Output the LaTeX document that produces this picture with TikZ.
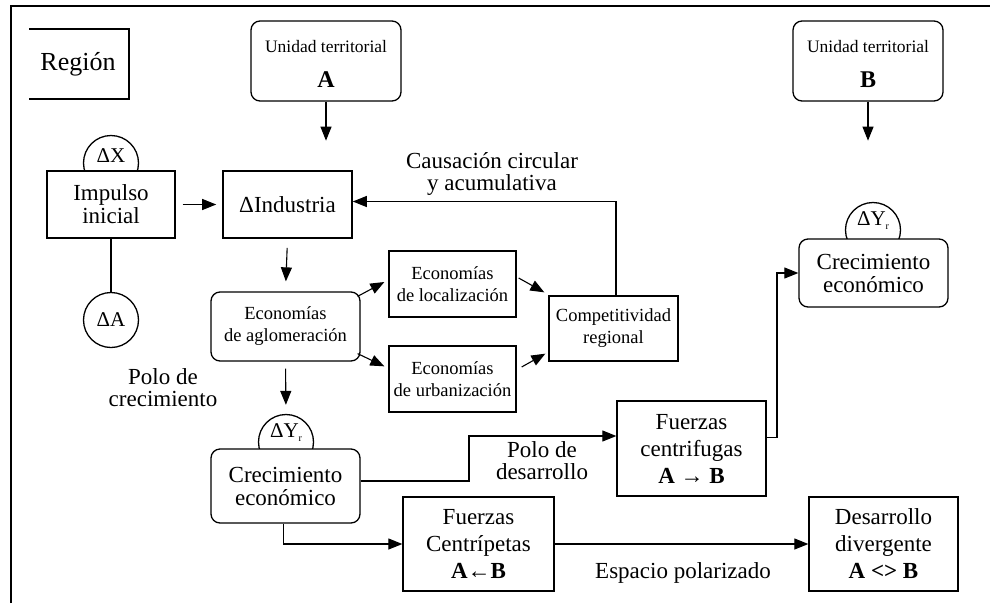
\documentclass[tikz,border=0pt]{standalone}
\usepackage{fontspec}
\setmainfont{Liberation Serif}
\usetikzlibrary{arrows.meta,calc}
\begin{document}
\begin{tikzpicture}[x=1pt,y=-1pt,
  box/.style={draw, line width=1.3pt, fill=white, align=center, inner sep=0pt},
  rbox/.style={box, rounded corners=9pt},
  circ/.style={draw, circle, line width=1.3pt, fill=white, minimum size=55pt, inner sep=0pt},
  arr/.style={line width=1.1pt, -{Triangle[length=14pt,width=11pt]}},
  ln/.style={line width=1.1pt},
  big/.style={font=\fontsize{23}{23}\selectfont},
  bigs/.style={font=\fontsize{23}{27}\selectfont},
  small/.style={font=\fontsize{18.5}{22}\selectfont},
  txt/.style={align=center, inner sep=0pt},
]
\useasboundingbox (0,0) rectangle (990,603);
% frame
\draw[line width=2pt] (11,603) -- (11,6) -- (990,6);
% Region
\draw[line width=2.4pt] (29,29) -- (129,29) -- (129,99) -- (29,99);
\node[txt, font=\fontsize{26}{26}\selectfont] (reg) at (78,64) {Región};

% unidades territoriales
\node[rbox, minimum width=150pt, minimum height=80pt] (uA) at (326,61) {};
\node[txt, font=\fontsize{17.5}{20}\selectfont] (uAt) at (326,47) {Unidad territorial};
\node[txt, font=\fontsize{24}{24}\selectfont\bfseries] (uAl) at (326,80) {A};
\node[rbox, minimum width=150pt, minimum height=80pt] (uB) at (868,61) {};
\node[txt, font=\fontsize{17.5}{20}\selectfont] (uBt) at (868,47) {Unidad territorial};
\node[txt, font=\fontsize{24}{24}\selectfont\bfseries] (uBl) at (868,80) {B};
\coordinate (aA) at ($(uA.south)+(0,39)$);
\coordinate (aB) at ($(uB.south)+(0,39)$);
\draw[arr] (uA.south) -- (aA);
\draw[arr] (uB.south) -- (aB);

% circles (behind boxes)
\node[circ] (dx) at (111,163) {};
\node[circ] (da) at (111,320) {};
\node[circ] (dyl) at (286,442) {};
\node[circ] (dyr) at (873,230) {};

% boxes
\node[box, minimum width=128pt, minimum height=67pt, big] (imp) at (111,204.5) {Impulso\\inicial};
\node[box, line width=1.6pt, minimum width=129pt, minimum height=67pt, big] (ind) at (287.5,204.5) {ΔIndustria};
\node[rbox, minimum width=149pt, minimum height=69pt, small] (agl) at (285.5,326.5) {Economías\\de aglomeración};
\node[box, minimum width=127pt, minimum height=66pt, small] (loc) at (452.5,284) {Economías\\de localización};
\node[box, minimum width=127pt, minimum height=66pt, small] (urb) at (452.5,379) {Economías\\de urbanización};
\node[box, minimum width=129pt, minimum height=65pt, small] (comp) at (613.5,328.5) {Competitividad\\regional};
\node[rbox, minimum width=149pt, minimum height=74pt, big] (crecL) at (285.5,486) {Crecimiento\\económico};
\node[rbox, minimum width=149pt, minimum height=68pt, big] (crecR) at (873.5,273) {Crecimiento\\económico};
\node[box, minimum width=149pt, minimum height=95pt, bigs] (centr) at (691.5,448.5) {Fuerzas\\centrifugas\\\textbf{A → B}};
\node[box, minimum width=151pt, minimum height=94pt, bigs] (centrip) at (478.5,544) {Fuerzas\\Centrípetas\\\textbf{A←B}};
\node[box, minimum width=149pt, minimum height=94pt, bigs] (desarr) at (883.5,544) {Desarrollo\\divergente\\\textbf{A <> B}};

% circle texts
\node[txt, font=\fontsize{21}{21}\selectfont] (dxt) at (111,156) {ΔX};
\node[txt, font=\fontsize{21}{21}\selectfont] (dat) at (111,320) {ΔA};
\node[txt, font=\fontsize{21}{21}\selectfont] (dylt) at (286,433) {ΔY\raisebox{-4pt}{\fontsize{10}{10}\selectfont r}};
\node[txt, font=\fontsize{21}{21}\selectfont] (dyrt) at (873,221) {ΔY\raisebox{-4pt}{\fontsize{10}{10}\selectfont r}};

% connectors
\draw[ln] (imp.south) -- (da.north);
\draw[arr, shorten <=7pt, shorten >=6pt] (imp.east) -- (ind.west);
\draw[arr, shorten <=9pt, shorten >=10pt] (ind.south) -- (agl.north);
\draw[arr, shorten <=7pt, shorten >=9pt] (agl.south) -- (dyl.north);
\draw[arr] ($(agl.north east)+(-3,5)$) -- ($(loc.west)+(-4,-2)$);
\draw[arr] ($(agl.south east)+(-3,-8)$) -- ($(urb.north west)+(-4,21)$);
\draw[arr] ($(loc.east)+(2,-6)$) -- ($(comp.north west)+(-4,-3)$);
\draw[arr] ($(urb.east)+(5,-12)$) -- ($(comp.south west)+(-3,-8)$);
\draw[arr] ([xshift=2.5pt]comp.north) |- ([yshift=3pt]ind.east);
\coordinate (bend1) at (469,436);
\draw[arr] ([yshift=5pt]crecL.east) -| (bend1) -- (bend1 -| centr.west);
\coordinate (bend2) at (777,273);
\draw[arr] ([yshift=11pt]centr.east) -| (bend2) -- (crecR.west);
\draw[arr] ([xshift=-2pt]crecL.south) |- (centrip.west);
\draw[arr] (centrip.east) -- (desarr.west);

% labels
\node[txt, font=\fontsize{23}{22}\selectfont] (caus) at (492,174) {Causación circular\\y acumulativa};
\node[txt, font=\fontsize{23}{22}\selectfont] (polc) at (163,388) {Polo de\\crecimiento};
\node[txt, font=\fontsize{23}{22}\selectfont] (pold) at (542,461) {Polo de\\desarrollo};
\node[txt, font=\fontsize{23}{23}\selectfont] (esp) at (683,573) {Espacio polarizado};
\end{tikzpicture}
\end{document}
